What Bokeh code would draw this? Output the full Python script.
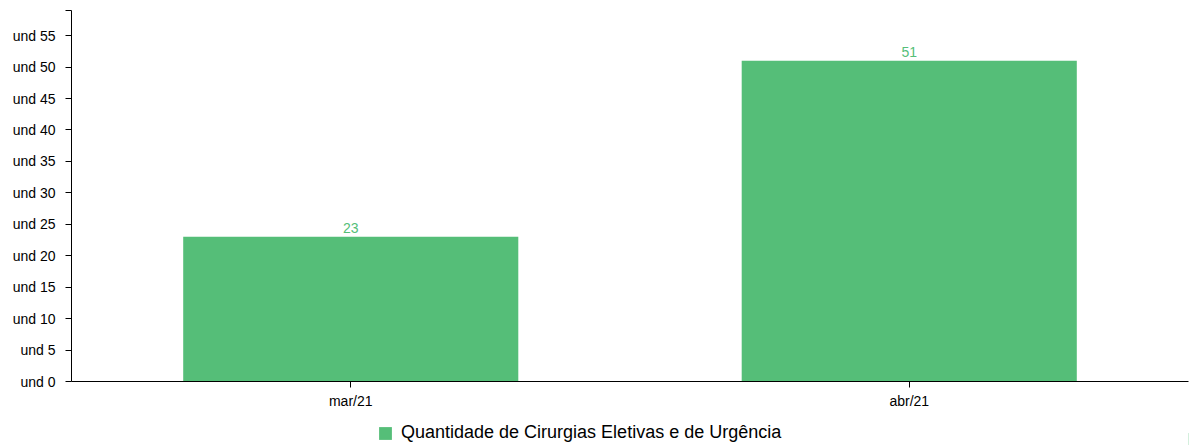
from bokeh.plotting import figure
from bokeh.layouts import column
from bokeh.models import ColumnDataSource, FactorRange, Range1d, FixedTicker, LabelSet, Legend, LegendItem
from bokeh.core.properties import value
from bokeh.embed import file_html
from bokeh.resources import INLINE

categories = ["mar/21", "abr/21"]
values = [23, 51]
series_name = "Quantidade de Cirurgias Eletivas e de Urgência"
y_ticks = [0, 5, 10, 15, 20, 25, 30, 35, 40, 45, 50, 55]
y_tick_labels = {t: f"und {t}" for t in y_ticks}

GREEN = "#55be78"
FONT = "Liberation Sans"

src = ColumnDataSource(dict(cat=categories, val=values, lab=[str(v) for v in values]))

p = figure(width=1189, height=420, x_range=FactorRange(*categories, range_padding=0),
           y_range=Range1d(0, 59), output_backend="svg", toolbar_location=None,
           min_border_left=71, min_border_right=1, min_border_top=10, min_border_bottom=39)
p.outline_line_color = None
p.grid.visible = False
p.background_fill_color = None
p.border_fill_color = "white"

r = p.vbar(x="cat", top="val", width=0.6, source=src, fill_color=GREEN, line_color=None)

labels = LabelSet(x="cat", y="val", text="lab", source=src, text_align="center",
                  text_baseline="bottom", y_offset=4, text_color=GREEN,
                  text_font=value(FONT), text_font_size=value("14px"))
p.add_layout(labels)

ya = p.yaxis[0]
ya.ticker = FixedTicker(ticks=y_ticks + [59])
ov = {t: l for t, l in y_tick_labels.items()}
ov[59] = ""
ya.major_label_overrides = ov
ya.minor_tick_line_color = None
ya.major_tick_out = 6
ya.major_tick_in = 0
ya.axis_line_color = "black"
ya.major_tick_line_color = "black"
ya.major_label_text_font = FONT
ya.major_label_text_font_size = "14px"
ya.major_label_text_color = "black"
ya.major_label_standoff = 10

xa = p.xaxis[0]
xa.major_tick_out = 6
xa.major_tick_in = 0
xa.axis_line_color = "black"
xa.major_tick_line_color = "black"
xa.major_label_text_font = FONT
xa.major_label_text_font_size = "14px"
xa.major_label_text_color = "black"
xa.major_label_standoff = 5

# legend strip below the chart
p2 = figure(width=1189, height=25, x_axis_type=None, y_axis_type=None,
            output_backend="svg", toolbar_location=None, min_border=0,
            x_range=Range1d(0, 1), y_range=Range1d(0, 1))
p2.outline_line_color = None
p2.grid.visible = False
# swatch renderer kept outside the visible range; only its legend glyph shows
dummy = p2.vbar(x=[10], top=[0.5], width=0.5, fill_color=GREEN, line_color=None)
legend = Legend(items=[LegendItem(label=series_name, renderers=[dummy])], location=(306, 2),
                orientation="horizontal", border_line_color=None, background_fill_alpha=0,
                glyph_width=16, glyph_height=16, label_text_font=FONT,
                label_text_font_size="18px", label_text_color="black", label_standoff=8,
                padding=0, margin=0, label_height=16)
p2.add_layout(legend)

layout = column(p, p2, spacing=0)
open("out.html", "w").write(file_html(layout, INLINE))
